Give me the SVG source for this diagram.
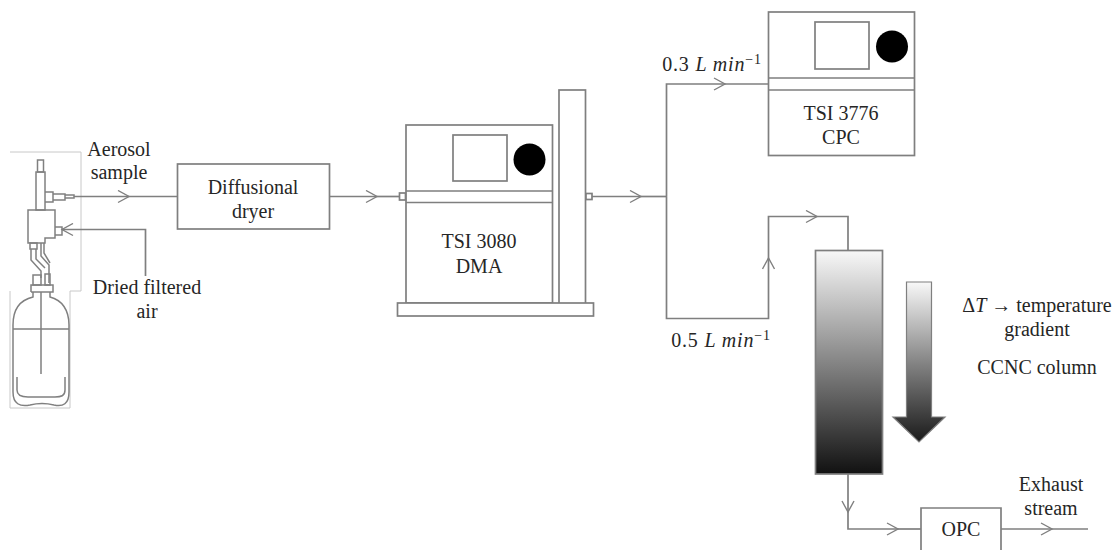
<svg xmlns="http://www.w3.org/2000/svg" width="1114" height="550" viewBox="0 0 1114 550">
<defs>
<linearGradient id="g" x1="0" y1="0" x2="0" y2="1"><stop offset="0" stop-color="#f8f8f8"/><stop offset="0.5" stop-color="#858585"/><stop offset="1" stop-color="#111"/></linearGradient>
<linearGradient id="ga" gradientUnits="userSpaceOnUse" x1="0" y1="282" x2="0" y2="442"><stop offset="0" stop-color="#f8f8f8"/><stop offset="0.5" stop-color="#858585"/><stop offset="1" stop-color="#1a1a1a"/></linearGradient>
<marker id="ah" markerWidth="14" markerHeight="14" refX="12" refY="7" orient="auto" markerUnits="userSpaceOnUse"><path d="M1 1L12 7L1 13" fill="none" stroke="#7f7f7f" stroke-width="1.4"/></marker>
</defs>
<style>
text{font-family:"Liberation Serif","Times New Roman",serif;font-size:20px;fill:#262626;text-anchor:middle}
.b{fill:#fff;stroke:#7f7f7f;stroke-width:1.7}
.l{fill:none;stroke:#7f7f7f;stroke-width:1.7}
.t{fill:none;stroke:#808080;stroke-width:1.5}
.f{fill:none;stroke:#c8c8c8;stroke-width:1}
.m{letter-spacing:0.8px}
</style>
<rect width="1114" height="550" fill="#fff"/>
<g id="atomizer">
<path class="f" d="M10 152H81V291H70V408H10V291"/>
<rect class="t" x="37.500" y="160" width="6" height="12"/>
<rect class="t" x="36" y="172" width="9" height="38"/>
<path class="t" d="M45 192H53V202H45M53 194H65V200H53M65 195H74V198H65"/>
<path class="t" d="M28 210H55V238H45V243H28Z"/>
<path class="t" d="M55 227H62V235H55"/>
<rect class="t" x="30" y="243" width="7" height="6"/>
<path class="t" d="M31 249V260L41 271V278M36 249V259L45 268M41 243V256L49 265V283M44 243V253L50 263"/>
<rect class="t" x="33" y="275" width="8" height="10"/><rect class="t" x="45" y="274" width="5" height="11"/>
<path class="t" d="M31 292V285H53V292H31M33 292V297C20 300 13 310 13 325V392C13 404 20 407 30 405C38 403 46 403 54 405C63 407 69 404 69 392V325C69 310 62 300 50 297V292"/>
<path class="t" d="M13 329H69M41 292V374M17 377V390C17 396 22 397 28 397H55C61 397 65 396 65 390V377"/>
</g>
<g id="diffusional-dryer"><rect class="b" x="177.500" y="164" width="152" height="65"/><text x="253" y="194">Diffusional</text><text x="253" y="218">dryer</text></g>
<g id="dma">
<rect class="b" x="559" y="90" width="26.500" height="214"/>
<rect class="b" x="406" y="125" width="146.500" height="178"/>
<rect class="b" x="453" y="135" width="54" height="46"/>
<circle cx="529.500" cy="159.500" r="16" fill="#000"/>
<path class="l" d="M406 191H552M406 202.500H552"/>
<rect class="b" x="397.500" y="303" width="196" height="13"/>
<rect class="b" x="399.500" y="193" width="6" height="7"/>
<rect class="b" x="586" y="193.500" width="6" height="6"/>
<text x="479" y="248">TSI 3080</text><text x="479" y="273">DMA</text>
</g>
<g id="cpc">
<rect class="b" x="768.500" y="12" width="146" height="143.500"/>
<rect class="b" x="815" y="22" width="54" height="47"/>
<circle cx="892" cy="46.500" r="16" fill="#000"/>
<path class="l" d="M768.500 78H914.500M768.500 90H914.500"/>
<text x="841" y="120">TSI 3776</text><text x="841" y="144">CPC</text>
</g>
<g id="ccnc-column">
<rect x="815.500" y="250.500" width="67" height="223.500" fill="url(#g)" stroke="#7f7f7f" stroke-width="1.7"/>
<path d="M906.500 282H931.500V417H945L919 442L893 417H906.500Z" fill="url(#ga)" stroke="#7f7f7f" stroke-width="1.2"/>
<text x="1037" y="312">Δ<tspan font-style="italic">T</tspan> → temperature</text>
<text x="1037" y="336">gradient</text>
<text x="1037" y="374">CCNC column</text>
</g>
<g id="opc"><path class="b" d="M921 550V508H1001V550"/><text x="961" y="536">OPC</text></g>
<g id="labels">
<text x="119" y="156">Aerosol</text><text x="119" y="179">sample</text>
<text x="147" y="294">Dried filtered</text><text x="147" y="318">air</text>
<text class="m" x="712" y="71">0.3 <tspan font-style="italic">L min</tspan><tspan font-size="14" dy="-7">−1</tspan></text>
<text class="m" x="721" y="347">0.5 <tspan font-style="italic">L min</tspan><tspan font-size="14" dy="-7">−1</tspan></text>
<text x="1051" y="491">Exhaust</text><text x="1051" y="515">stream</text>
</g>
<g id="connectors">
<path class="l" marker-end="url(#ah)" d="M74 196.500H129"/><path class="l" d="M129 196.500H177"/>
<path class="l" marker-end="url(#ah)" d="M145.500 276V229.500H62"/>
<path class="l" marker-end="url(#ah)" d="M330 196.500H377"/><path class="l" d="M377 196.500H399"/>
<path class="l" marker-end="url(#ah)" d="M592 196.500H641"/><path class="l" d="M641 196.500H667"/>
<path class="l" marker-end="url(#ah)" d="M666.500 196.500V84H725"/><path class="l" d="M725 84H769"/>
<path class="l" marker-end="url(#ah)" d="M666.500 196.500V318.500H768.500V258"/>
<path class="l" marker-end="url(#ah)" d="M768.500 258V216.500H817"/>
<path class="l" d="M817 216.500H848V250"/>
<path class="l" marker-end="url(#ah)" d="M848 474V512"/>
<path class="l" marker-end="url(#ah)" d="M848 512V529H898"/><path class="l" d="M898 529H921"/>
<path class="l" marker-end="url(#ah)" d="M1001 529H1052"/><path class="l" d="M1052 529H1088"/>
</g>
</svg>
